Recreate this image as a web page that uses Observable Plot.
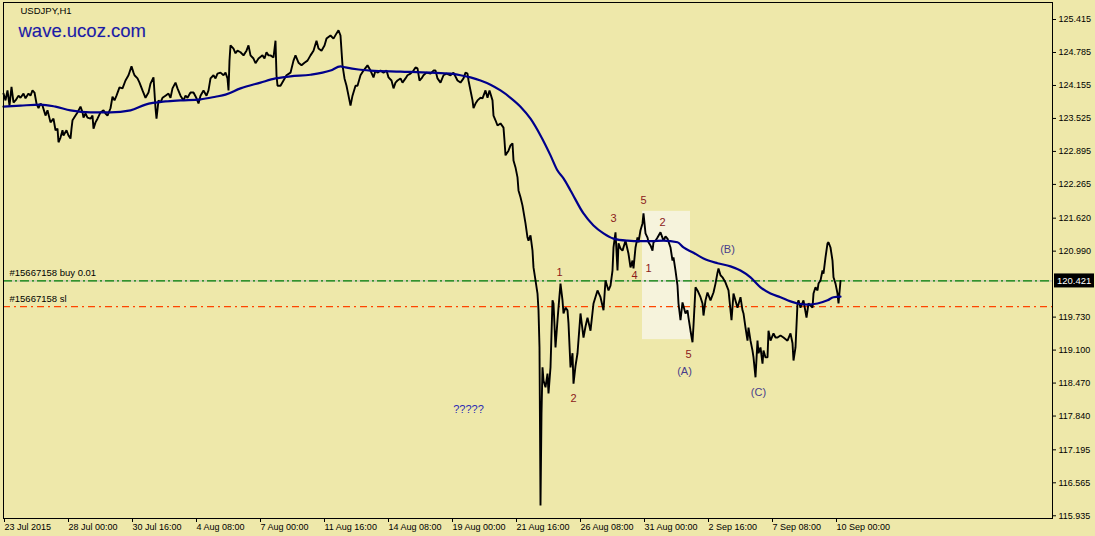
<!DOCTYPE html>
<html>
<head>
<meta charset="utf-8">
<script src="https://cdn.jsdelivr.net/npm/d3@7"></script>
<script src="https://cdn.jsdelivr.net/npm/@observablehq/plot@0.6"></script>
<style>
  html, body { margin: 0; padding: 0; background: #EEE8AA; }
  #chart { width: 1095px; height: 536px; }
  svg { display: block; }
</style>
</head>
<body>
<div id="chart"></div>
<script>
// ---- Data (bar index = hourly bar number from 23 Jul 2015 08:00) ----
const symbol = "USDJPY,H1";
const watermark = "wave.ucoz.com";

const priceBars = [0,2,4,6,8,10,12,15,17,20,22,25,27,29,31,33,35,37,39,42,44,47,50,52,54,55,57,59,60,63,65,67,68,69,72,74,77,79,80,82,84,87,89,90,92,94,97,100,102,104,107,109,111,113,116,119,122,125,128,130,131,134,136,139,142,145,147,150,152,153,155,157,159,162,165,167,169,172,174,177,180,182,184,187,190,193,195,197,200,203,205,207,210,212,214,217,220,222,224,225,226,227,230,232,234,237,240,243,245,247,250,252,255,259,261,263,265,267,270,272,273,274,277,280,283,287,290,292,295,298,301,304,307,310,313,315,318,321,323,327,330,333,335,337,338,339,341,343,345,347,349,352,354,357,360,364,367,370,372,374,377,380,383,385,388,390,392,394,397,399,402,404,407,410,412,414,416,418,420,423,427,430,432,434,437,440,443,447,450,454,457,460,462,464,465,467,469,470,472,474,477,479,482,484,486,489,490,492,494,497,500,501,502,505,507,509,510,512,514,515,517,519,522,524,525,527,529,530,532,534,535,536,537,538,539,540,542,544,545,547,549,550,552,554,555,557,559,560,562,564,565,567,569,570,572,574,577,580,582,584,587,590,594,597,600,602,605,607,609,610,612,614,615,617,619,622,625,627,629,630,632,634,635,637,639,640,642,644,645,647,649,650,652,654,657,660,662,664,667,669,670,672,674,675,677,679,682,684,685,687,689,690,692,694,697,699,700,702,704,707,710,712,714,715,717,719,722,725,728,730,734,737,739,740,742,744,745,747,749,750,752,754,755,757,759,760,762,764,765,767,770,772,774,777,780,784,787,789,790,792,794,795,797,800,803,805,807,809,810,812,814,815,817,819,820,822,824,825,827,829,830,832,834,835,837];
const closes = [124.00,123.87,124.06,123.77,124.13,123.83,123.87,123.96,123.92,124.00,123.91,124.00,123.96,124.06,124.02,123.81,123.72,123.81,123.77,123.58,123.68,123.45,123.52,123.30,123.33,123.07,123.16,123.30,123.20,123.30,123.20,123.14,123.33,123.49,123.58,123.64,123.75,123.64,123.54,123.62,123.54,123.52,123.58,123.33,123.45,123.52,123.64,123.68,123.62,123.58,123.72,123.94,123.87,123.96,124.12,124.10,124.25,124.35,124.52,124.40,124.35,124.29,124.21,124.06,123.92,124.02,124.19,124.31,123.72,123.52,123.87,123.83,123.92,123.96,124.00,123.92,124.10,124.21,124.10,123.96,123.87,123.96,123.92,124.02,124.02,123.91,123.81,123.96,124.06,123.96,124.06,124.29,124.35,124.29,124.38,124.40,124.35,124.40,124.29,124.06,124.63,124.92,124.86,124.77,124.82,124.79,124.73,124.82,124.92,124.73,124.67,124.58,124.67,124.73,124.67,124.79,124.73,124.73,124.69,125.01,124.35,124.15,124.15,124.25,124.35,124.40,124.63,124.73,124.59,124.54,124.59,124.63,124.73,124.82,125.01,124.86,124.82,124.92,125.05,125.11,125.05,125.15,125.21,125.11,124.82,124.54,124.29,124.15,123.96,123.77,123.96,124.15,124.15,124.35,124.44,124.54,124.44,124.31,124.44,124.40,124.44,124.40,124.44,124.31,124.25,124.10,124.21,124.25,124.29,124.21,124.29,124.35,124.38,124.44,124.50,124.48,124.25,124.29,124.35,124.40,124.38,124.44,124.44,124.29,124.21,124.35,124.38,124.35,124.40,124.25,124.21,124.29,124.40,124.38,124.25,124.06,123.87,123.72,123.81,123.87,123.92,123.91,124.06,123.92,124.06,123.87,123.58,123.49,123.39,123.43,123.35,123.10,122.82,122.91,123.01,123.05,122.72,122.59,122.40,122.15,122.02,121.86,121.52,121.25,121.19,121.29,121.00,120.68,120.43,120.18,119.86,119.15,116.13,117.89,118.77,118.52,118.39,118.65,118.27,118.77,120.05,119.99,119.15,119.67,119.91,120.37,120.05,119.80,119.91,119.86,119.61,118.77,119.04,118.46,118.80,119.04,119.80,119.34,119.55,119.72,119.47,119.99,120.24,120.11,119.86,120.43,120.24,120.33,120.62,121.06,121.35,120.62,121.14,121.04,121.00,121.19,120.94,120.68,120.81,120.66,121.06,121.25,121.16,121.39,121.52,121.71,121.33,121.25,121.16,121.10,121.00,121.16,121.19,121.25,121.35,121.19,121.27,121.23,121.06,120.81,120.87,120.62,120.33,119.99,119.67,120.01,119.80,119.86,119.72,119.47,119.25,119.57,120.30,120.24,120.11,119.99,119.76,120.05,120.20,120.05,120.20,120.37,120.58,120.66,120.53,120.49,120.39,120.24,119.67,120.18,119.91,120.11,119.86,119.80,119.53,119.28,119.53,119.28,119.09,118.96,118.58,119.28,119.04,119.15,118.84,119.09,118.96,118.96,119.47,119.28,119.42,119.34,119.34,119.38,119.34,119.28,119.42,119.23,118.90,119.15,119.99,120.05,119.91,120.05,119.72,119.99,119.95,119.91,120.18,120.30,120.24,120.37,120.43,120.62,120.56,120.87,121.14,121.16,121.06,120.81,120.49,120.37,120.18,119.99,120.42];

const maBars = [0,17,37,52,67,87,107,127,142,162,177,197,212,222,237,257,272,287,307,327,337,342,355,367,397,427,447,457,467,477,487,497,507,517,527,537,547,554,560,567,580,590,600,610,624,637,647,660,674,680,690,700,714,727,737,747,757,767,777,787,794,804,814,824,830,837];
const maValues = [123.75,123.77,123.79,123.75,123.68,123.64,123.64,123.68,123.79,123.85,123.87,123.89,123.94,123.98,124.10,124.21,124.29,124.33,124.36,124.44,124.52,124.50,124.46,124.44,124.42,124.40,124.38,124.35,124.31,124.25,124.17,124.06,123.92,123.75,123.52,123.20,122.82,122.53,122.38,122.15,121.71,121.48,121.33,121.23,121.19,121.18,121.18,121.19,121.16,121.06,120.96,120.85,120.76,120.70,120.62,120.49,120.30,120.18,120.11,120.03,119.99,119.97,119.99,120.05,120.11,120.12];

const xTickBars = [0,64,128,192,256,320,384,448,512,576,640,704,768,832];
const xTickLabels = ["23 Jul 2015","28 Jul 00:00","30 Jul 16:00","4 Aug 08:00","7 Aug 00:00","11 Aug 16:00","14 Aug 08:00","19 Aug 00:00","21 Aug 16:00","26 Aug 08:00","31 Aug 00:00","2 Sep 16:00","7 Sep 08:00","10 Sep 00:00"];
const yTicks = [125.415,124.785,124.155,123.525,122.895,122.265,121.620,120.990,119.730,119.100,118.470,117.840,117.195,116.565,115.935];

const bidPrice = 120.421;
const buyPrice = 120.421;
const slPrice = 119.93;
const buyLabel = "#15667158 buy 0.01";
const slLabel = "#15667158 sl";

const waveText = ["1","2","3","4","5","1","2","5"];
const waveBars = [556,570,610,631,640,645,659,685];
const wavePrices = [120.58,118.18,121.61,120.53,121.96,120.66,121.54,119.02];
const abcText = ["(A)","(B)","(C)"];
const abcBars = [681,724,755];
const abcPrices = [118.69,121.02,118.29];
const questionText = ["?????"];
const questionBars = [465];
const questionPrices = [117.97];

const boxBars = [639, 687];
const boxPrices = [119.30, 121.75];

// ---- Build tables ----
const price = priceBars.map((b, i) => ({bar: b, v: closes[i]}));
const ma = maBars.map((b, i) => ({bar: b, v: maValues[i]}));
const waves = waveText.map((t, i) => ({t, bar: waveBars[i], v: wavePrices[i]}));
const abc = abcText.map((t, i) => ({t, bar: abcBars[i], v: abcPrices[i]}));
const qs = questionText.map((t, i) => ({t, bar: questionBars[i], v: questionPrices[i]}));
const tickLabel = new Map(xTickBars.map((b, i) => [b, xTickLabels[i]]));

const font = "Liberation Sans, Arial, sans-serif";

const chart = Plot.plot({
  width: 1095,
  height: 536,
  marginTop: 2,
  marginRight: 43,
  marginBottom: 18,
  marginLeft: 3,
  style: {background: "#EEE8AA", fontFamily: font, fontSize: "9px", color: "black"},
  x: {type: "linear", domain: [0, 1049]},
  y: {type: "linear", domain: [115.883, 125.740]},
  marks: [
    Plot.rect([{x1: boxBars[0], x2: boxBars[1], y1: boxPrices[0], y2: boxPrices[1]}],
      {x1: "x1", x2: "x2", y1: "y1", y2: "y2", fill: "#f6f3dc"}),
    Plot.ruleY([bidPrice], {stroke: "#b8b8b8", strokeWidth: 1}),
    Plot.ruleY([buyPrice], {stroke: "#008000", strokeWidth: 1.2, strokeDasharray: "9,3,2,3"}),
    Plot.ruleY([slPrice], {stroke: "#FF4500", strokeWidth: 1.2, strokeDasharray: "7,4,2,4"}),
    Plot.text([buyLabel], {text: d => d, y: buyPrice, frameAnchor: "left", dx: 6, dy: -8, textAnchor: "start", fill: "black", fontSize: 9.5}),
    Plot.text([slLabel], {text: d => d, y: slPrice, frameAnchor: "left", dx: 6, dy: -8, textAnchor: "start", fill: "black", fontSize: 9.5}),
    Plot.line(price, {x: "bar", y: "v", stroke: "black", strokeWidth: 1.9, strokeLinejoin: "miter"}),
    Plot.line(ma, {x: "bar", y: "v", stroke: "#00008B", strokeWidth: 2.2, curve: "monotone-x"}),
    Plot.text(waves, {x: "bar", y: "v", text: "t", fill: "#8b1a1a", fontSize: 11}),
    Plot.text(abc, {x: "bar", y: "v", text: "t", fill: "#483D8B", fontSize: 11}),
    Plot.text(qs, {x: "bar", y: "v", text: "t", fill: "#2a2ab4", fontSize: 11}),
    Plot.text([symbol], {text: d => d, frameAnchor: "top-left", dx: 17, dy: 5, textAnchor: "start", fill: "black", fontSize: 9.5}),
    Plot.text([watermark], {text: d => d, frameAnchor: "top-left", dx: 15, dy: 21, textAnchor: "start", fill: "#1a1aa8", fontSize: 18.5, stroke: "#c8c4a0", strokeWidth: 0.5}),
    Plot.axisX(xTickBars, {anchor: "bottom", tickSize: 4, tickPadding: 1, textAnchor: "start", dx: 1, tickFormat: d => tickLabel.get(d), fontSize: 9, label: null}),
    Plot.axisY(yTicks, {anchor: "right", tickSize: 3, tickPadding: 3, tickFormat: d => d.toFixed(3), fontSize: 9, label: null}),
    Plot.frame({stroke: "black"})
  ]
});

// current price box on the right axis, positioned with the chart's own y scale
const svg = d3.select(chart);
const yPix = chart.scale("y").apply(bidPrice);
const g = svg.append("g");
g.append("rect").attr("x", 1054).attr("y", yPix - 7).attr("width", 40).attr("height", 14).attr("fill", "black");
g.append("text").attr("x", 1057).attr("y", yPix + 3.5).attr("fill", "white").attr("font-size", 9.5)
  .attr("text-anchor", "start").attr("font-family", font).text(bidPrice.toFixed(3));

document.getElementById("chart").appendChild(chart);
</script>
</body>
</html>
